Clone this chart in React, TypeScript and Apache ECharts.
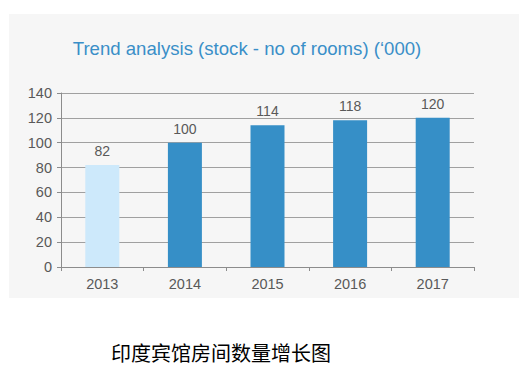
import React, { useEffect, useRef } from "react";
import * as echarts from "echarts";

const categories = ["2013", "2014", "2015", "2016", "2017"];
const values = [82, 100, 114, 118, 120];
const barColors = ["#cde9fb", "#368fc7", "#368fc7", "#368fc7", "#368fc7"];
const titleText = "Trend analysis (stock - no of rooms) (\u2018000)";
const captionText = "印度宾馆房间数量增长图";

export default function App() {
  const ref = useRef<HTMLDivElement>(null);
  useEffect(() => {
    if (!ref.current) return;
    const chart = echarts.init(ref.current, null, { renderer: "svg" });
    chart.setOption({
      animation: false,
      backgroundColor: "#ffffff",
      graphic: [
        {
          type: "rect",
          shape: { x: 9, y: 14, width: 510, height: 284 },
          style: { fill: "#f6f6f6" },
          z: -10,
        },
        {
          type: "text",
          x: 247,
          y: 48,
          style: {
            text: titleText,
            fill: "#3a8fc8",
            font: "18.6px 'Liberation Sans', Arial, sans-serif",
            textAlign: "center",
            textVerticalAlign: "middle",
          },
        },
        {
          type: "text",
          x: 221,
          y: 352,
          style: {
            text: captionText,
            fill: "#000000",
            font: "20px 'Noto Sans CJK SC', sans-serif",
            textAlign: "center",
            textVerticalAlign: "middle",
          },
        },
      ],
      grid: { left: 61, right: 55, top: 93, bottom: 109, containLabel: false },
      xAxis: {
        type: "category",
        data: categories,
        axisLine: { show: true, lineStyle: { color: "#8c8c8c", width: 1 } },
        axisTick: { show: true, length: 4, lineStyle: { color: "#8c8c8c" } },
        axisLabel: {
          color: "#595959",
          fontSize: 14.5,
          fontFamily: "'Liberation Sans', Arial, sans-serif",
          margin: 9,
        },
      },
      yAxis: {
        type: "value",
        min: 0,
        max: 140,
        interval: 20,
        axisLine: { show: true, lineStyle: { color: "#8c8c8c", width: 1 } },
        axisTick: { show: true, length: 4, lineStyle: { color: "#8c8c8c" } },
        splitLine: { show: true, lineStyle: { color: "#a0a0a0", width: 1 } },
        axisLabel: {
          color: "#595959",
          fontSize: 14.5,
          fontFamily: "'Liberation Sans', Arial, sans-serif",
          margin: 9,
        },
      },
      series: [
        {
          type: "bar",
          barWidth: 34,
          data: values.map((v, i) => ({ value: v, itemStyle: { color: barColors[i] } })),
          label: {
            show: true,
            position: "top",
            distance: 7,
            color: "#595959",
            fontSize: 14,
            fontFamily: "'Liberation Sans', Arial, sans-serif",
          },
        },
      ],
    });
    return () => chart.dispose();
  }, []);
  return (
    <div
      ref={ref}
      style={{ position: "fixed", left: 0, top: 0, width: 529, height: 376 }}
    />
  );
}
